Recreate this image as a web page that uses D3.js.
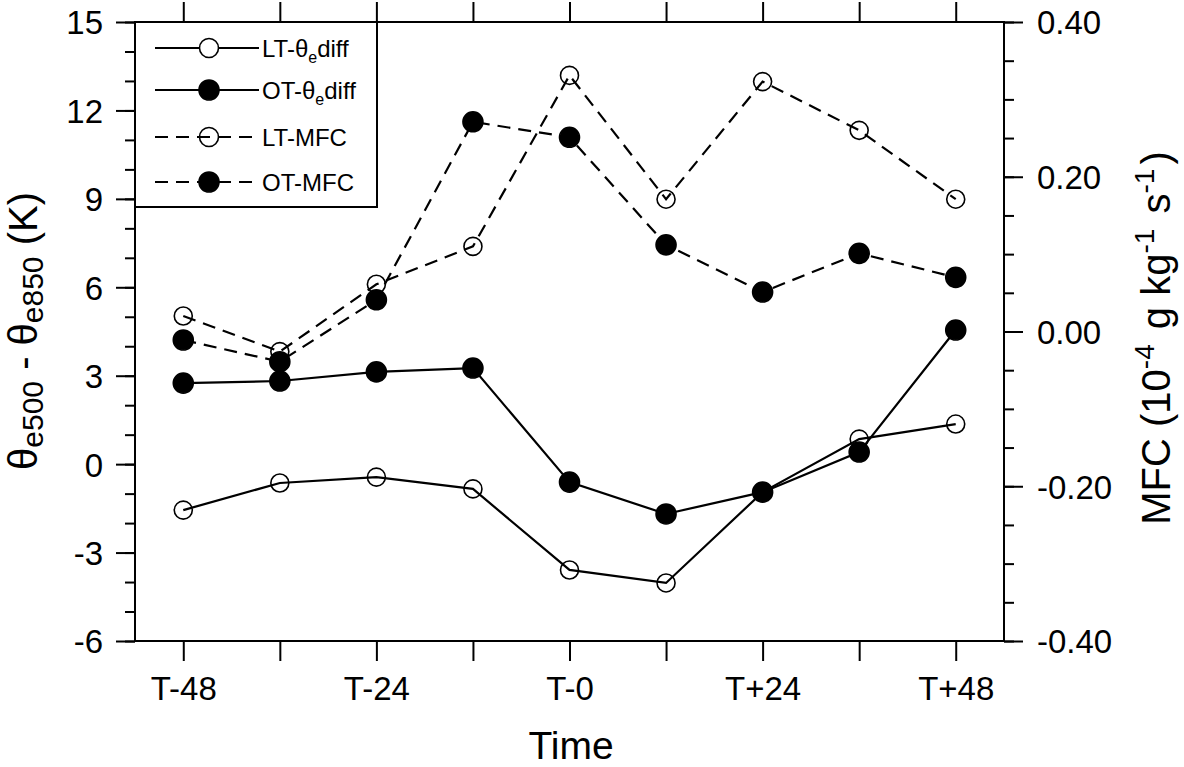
<!DOCTYPE html>
<html><head><meta charset="utf-8">
<script src="https://cdn.jsdelivr.net/npm/d3@7/dist/d3.min.js"></script>
<style>
body{margin:0;background:#fff;}
text{font-family:"Liberation Sans",Arial,Helvetica,sans-serif;fill:#000;}
</style></head>
<body>
<svg id="chart" width="1184" height="767"></svg>
<script>
// ---- data ----
const categories = ["T-48","T-36","T-24","T-12","T-0","T+12","T+24","T+36","T+48"];
const xTickLabels = ["T-48","","T-24","","T-0","","T+24","","T+48"];
const leftTicks = [-6,-3,0,3,6,9,12,15];
const rightTicks = [-0.4,-0.2,0,0.2,0.4];
const ltThetaDiff = [-1.56,-0.64,-0.44,-0.84,-3.59,-4.03,-0.95,0.85,1.36];
const otThetaDiff = [2.75,2.82,3.13,3.26,-0.61,-1.69,-0.95,0.41,4.55];
const ltMFC = [0.020,-0.026,0.061,0.110,0.331,0.171,0.323,0.260,0.171];
const otMFC = [-0.011,-0.039,0.041,0.271,0.251,0.112,0.051,0.101,0.070];

const svg = d3.select("#chart");
const L = 135, R = 1004, T = 22, B = 641;

const x = d3.scalePoint().domain(categories).range([L, R]).padding(0.5);
const yL = d3.scaleLinear().domain([-6, 15]).range([B, T]);
const yR = d3.scaleLinear().domain([-0.4, 0.4]).range([B, T]);

const tickFont = "33px";
const hyph = f => (d => f(d).replace("\u2212", "-"));

// minor ticks
svg.append("g").attr("transform", `translate(${L},0)`)
  .call(d3.axisLeft(yL).tickValues(d3.range(-6, 16, 1)).tickSize(10).tickFormat(""))
  .call(g => g.select(".domain").remove());
svg.append("g").attr("transform", `translate(${R},0)`)
  .call(d3.axisRight(yR).tickValues(d3.range(-8, 9, 1).map(d => d * 0.05)).tickSize(10).tickFormat(""))
  .call(g => g.select(".domain").remove());

// major ticks
const gl = svg.append("g").attr("transform", `translate(${L},0)`)
  .call(d3.axisLeft(yL).tickValues(leftTicks).tickSize(19).tickPadding(13).tickFormat(hyph(d3.format("d"))))
  .call(g => g.select(".domain").remove());
const gr = svg.append("g").attr("transform", `translate(${R},0)`)
  .call(d3.axisRight(yR).tickValues(rightTicks).tickSize(19).tickPadding(14).tickFormat(hyph(d3.format(".2f"))))
  .call(g => g.select(".domain").remove());
const gb = svg.append("g").attr("transform", `translate(0,${B})`)
  .call(d3.axisBottom(x).tickSize(20).tickPadding(16).tickFormat((d, i) => xTickLabels[i]))
  .call(g => g.select(".domain").remove());
svg.append("g").attr("transform", `translate(0,${T})`)
  .call(d3.axisTop(x).tickSize(20).tickFormat(""))
  .call(g => g.select(".domain").remove());

svg.selectAll(".tick line").attr("stroke", "#000").attr("stroke-width", 2);
svg.selectAll(".tick text").style("font-size", tickFont)
  .style("font-family", '"Liberation Sans",Arial,sans-serif').attr("fill", "#000");
gl.selectAll(".tick text").attr("dy", "0.36em");
gr.selectAll(".tick text").attr("dy", "0.36em").attr("text-anchor", "start");

// frame
svg.append("rect").attr("x", L).attr("y", T).attr("width", R - L).attr("height", B - T)
  .attr("fill", "none").attr("stroke", "#000").attr("stroke-width", 2);

// lines
const dashPat = "13,8";
const series = [
  {vals: ltMFC, y: yR, dash: dashPat, fill: "none", r: 9},
  {vals: otMFC, y: yR, dash: dashPat, fill: "#000", r: 10},
  {vals: ltThetaDiff, y: yL, dash: null, fill: "none", r: 9},
  {vals: otThetaDiff, y: yL, dash: null, fill: "#000", r: 10}
];
series.forEach(s => {
  const line = d3.line().x((d, i) => x(categories[i])).y(d => s.y(d));
  svg.append("path").datum(s.vals).attr("d", line)
    .attr("fill", "none").attr("stroke", "#000").attr("stroke-width", 2.2)
    .attr("stroke-dasharray", s.dash);
});
// markers: open first, filled on top
[series[0], series[2], series[1], series[3]].forEach(s => {
  svg.append("g").selectAll("circle").data(s.vals).join("circle")
    .attr("cx", (d, i) => x(categories[i])).attr("cy", d => s.y(d))
    .attr("r", s.r).attr("fill", s.fill).attr("stroke", "#000").attr("stroke-width", 1.6);
});

// legend
const lg = svg.append("g");
lg.append("rect").attr("x", L).attr("y", T).attr("width", 242).attr("height", 185)
  .attr("fill", "#fff").attr("stroke", "#000").attr("stroke-width", 2);
const legendItems = [
  {main: "LT-θ", sub: "e", tail: "diff", dash: null, fill: "#fff", y: 48},
  {main: "OT-θ", sub: "e", tail: "diff", dash: null, fill: "#000", y: 90},
  {main: "LT-MFC", sub: "", tail: "", dash: dashPat, fill: "none", y: 137},
  {main: "OT-MFC", sub: "", tail: "", dash: dashPat, fill: "#000", y: 182}
];
legendItems.forEach(it => {
  lg.append("line").attr("x1", 155).attr("x2", 259).attr("y1", it.y).attr("y2", it.y)
    .attr("stroke", "#000").attr("stroke-width", 2.2).attr("stroke-dasharray", it.dash);
  lg.append("circle").attr("cx", 209).attr("cy", it.y).attr("r", it.fill === "#000" ? 10 : 9.5)
    .attr("fill", it.fill).attr("stroke", "#000").attr("stroke-width", 1.6);
  const t = lg.append("text").attr("x", 262).attr("y", it.y + 9).style("font-size", "24px");
  t.append("tspan").text(it.main);
  if (it.sub) {
    t.append("tspan").text(it.sub).style("font-size", "16px").attr("dy", 6);
    t.append("tspan").text(it.tail).attr("dy", -6);
  }
});

// axis titles
svg.append("text").attr("x", 571).attr("y", 759).attr("text-anchor", "middle")
  .style("font-size", "39px").text("Time");

const lt = svg.append("text").attr("transform", "translate(37,331) rotate(-90)")
  .attr("text-anchor", "middle").style("font-size", "40px");
lt.append("tspan").text("θ");
lt.append("tspan").text("e500").style("font-size", "30px").attr("dy", 6);
lt.append("tspan").text(" - θ").attr("dy", -6);
lt.append("tspan").text("e850").style("font-size", "30px").attr("dy", 6);
lt.append("tspan").text(" (K)").attr("dy", -6);

const rt = svg.append("text").attr("transform", "translate(1170,338) rotate(-90)")
  .attr("text-anchor", "middle").style("font-size", "40px");
rt.append("tspan").text("MFC (10");
rt.append("tspan").text("-4").style("font-size", "28px").attr("dy", -16);
rt.append("tspan").text(" g kg").attr("dy", 16).attr("dx", 4);
rt.append("tspan").text("-1").style("font-size", "28px").attr("dy", -16);
rt.append("tspan").text(" s").attr("dy", 16).attr("dx", 4);
rt.append("tspan").text("-1").style("font-size", "28px").attr("dy", -16);
rt.append("tspan").text(")").attr("dy", 16).attr("dx", 4);
</script>
</body></html>
